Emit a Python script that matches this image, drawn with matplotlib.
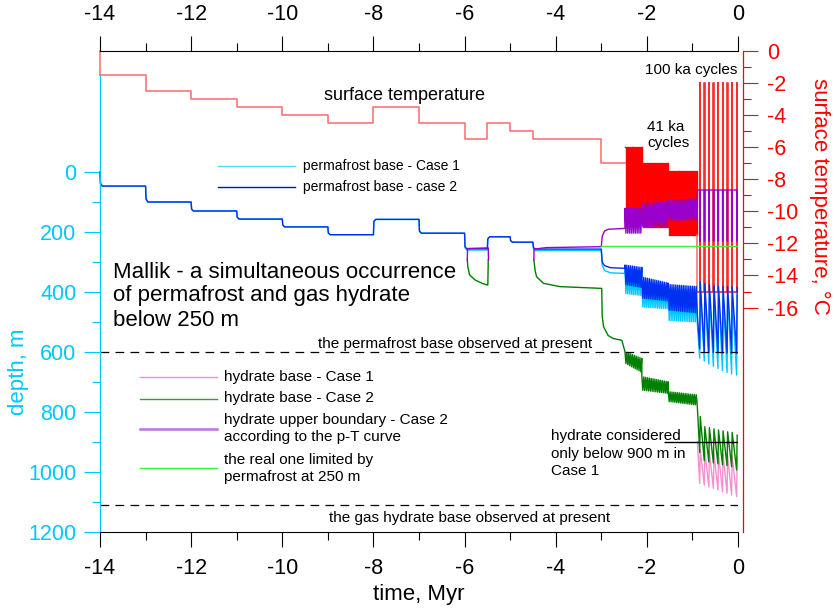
import numpy as np
import matplotlib
matplotlib.use('Agg')
import matplotlib.pyplot as plt
from matplotlib.lines import Line2D

plt.rcParams['font.family'] = ['Liberation Sans', 'DejaVu Sans']
plt.rcParams['axes.unicode_minus'] = False

# ---- surface temperature (degC), value holds from step_time[i] to step_time[i+1]
temp_step_time = [-14, -13, -12, -11, -10, -9, -8, -7, -6, -5.5, -5, -4.5, -3, -2.48]
temp_step_value = [-1.5, -2.5, -3, -3.5, -4, -4.5, -3.5, -4.5, -5.5, -4.5, -5, -5.5, -7]

# 41 ka cycles, three blocks
cyc41_start = [-2.48, -2.11, -1.53]
cyc41_end = [-2.11, -1.53, -0.89]
cyc41_warm = [-6.0, -7.0, -7.5]
cyc41_cold = [-10.5, -11.0, -11.5]
period41 = 0.041

# 100 ka cycles: short warm spikes on a cold background
spike100 = [-0.84, -0.74, -0.64, -0.54, -0.44, -0.34, -0.24, -0.14, -0.03]
spike_len = 0.012
temp100_warm = -2
temp100_cold = -15

# ---- permafrost base, case 2 (blue) and case 1 (cyan), depth m
pf2_t = [-14, -13.99, -13.95, -13.0, -12.99, -12.95, -12.0, -11.99, -11.95, -11.0, -10.99, -10.95,
         -10.0, -9.99, -9.95, -9.0, -8.99, -8.95, -8.0, -7.99, -7.95, -7.0, -6.99, -6.95,
         -6.0, -5.99, -5.95, -5.5, -5.49, -5.45, -5.0, -4.99, -4.95, -4.5, -4.49, -4.45,
         -3.0, -2.98, -2.93, -2.8, -2.48]
pf2_d = [0, 38, 47, 47, 90, 100, 100, 124, 130, 130, 150, 157,
         157, 177, 183, 183, 203, 209, 209, 165, 158, 158, 197, 204,
         204, 249, 256, 256, 223, 216, 216, 229, 234, 234, 251, 257,
         257, 300, 312, 319, 321]
pf1_t = pf2_t
pf1_d = [0, 38, 47, 47, 90, 100, 100, 124, 130, 130, 150, 157,
         157, 177, 183, 183, 203, 209, 209, 165, 158, 158, 197, 204,
         204, 252, 260, 260, 222, 216, 216, 229, 234, 234, 255, 262,
         262, 310, 328, 336, 338]

# 41 ka band envelopes (start/end of each block)
pf2_up0, pf2_up1 = [310, 350, 375], [318, 370, 382]
pf2_lo0, pf2_lo1 = [375, 420, 460], [385, 430, 470]
pf1_up0, pf1_up1 = [320, 362, 388], [328, 380, 392]
pf1_lo0, pf1_lo1 = [405, 450, 495], [412, 456, 500]
hb2_up0, hb2_up1 = [599, 682, 732], [621, 699, 743]
hb2_lo0, hb2_lo1 = [637, 727, 765], [668, 738, 777]
hu2_up0, hu2_up1 = [121, 104, 93], [121, 100, 90]
hu2_lo0, hu2_lo1 = [204, 182, 160], [204, 182, 160]

# 100 ka saw-tooth: depth just before each spike (bottom) and right after it (top)
pf2_bot100 = [590, 600, 600, 602, 603, 604, 604, 604, 605]
pf2_top100 = [366, 372, 375, 378, 380, 380, 382, 382, 385]
pf1_bot100 = [621, 630, 640, 648, 655, 662, 668, 673, 677]
pf1_top100 = [390, 395, 400, 402, 405, 405, 408, 410, 410]
hb2_bot100 = [935, 962, 966, 970, 973, 976, 979, 982, 993]
hb2_top100 = [815, 849, 852, 856, 860, 863, 866, 868, 877]
hb1_bot100 = [1038, 1044, 1050, 1055, 1060, 1066, 1071, 1076, 1082]
hb1_top100 = [925, 930, 935, 938, 940, 942, 945, 948, 950]
hu2_cold100 = 60
hu2_warm100 = 230

# hydrate base case 2 (green) and upper boundary case 2 (purple) before the cycles
hb2_t = [-5.94, -5.93, -5.89, -5.77, -5.6, -5.49, -5.48, np.nan,
         -4.48, -4.45, -4.42, -4.27, -3.91, -2.99, -2.98, -2.95, -2.85, -2.74, -2.55]
hb2_d = [293, 315, 343, 360, 372, 377, 293, np.nan,
         293, 330, 349, 371, 382, 388, 480, 516, 545, 555, 561]
hu2_t = [-5.94, -5.935, -5.48, -5.475, np.nan,
         -4.48, -4.475, -4.2, -3.0, -2.98, -2.93, -2.85, -2.48]
hu2_d = [293, 255, 253, 293, np.nan,
         293, 257, 252, 249, 215, 197, 191, 188]

real_top_t = [-3.0, 0]
real_top_d = [248, 248]

pf_present = 600
gh_present = 1110
case1_limit = 900
case1_limit_t = [-1.62, 0]

CYAN = '#00c8ff'
BLUE = '#0030f0'
PINK = '#f590d0'
GREEN = '#008000'
PURPLE = '#9900cc'
LGREEN = '#40ee40'
RED = '#ff0000'
PALE_RED = '#ff6a6a'


def band41(up0, up1, lo0, lo1):
    ts, ds = [], []
    for b in range(len(cyc41_start)):
        t = np.arange(cyc41_start[b], cyc41_end[b], period41 / 2)
        up = np.linspace(up0[b], up1[b], len(t))
        lo = np.linspace(lo0[b], lo1[b], len(t))
        ts.extend(t)
        ds.extend(np.where(np.arange(len(t)) % 2 == 0, up, lo))
    return ts, ds


def saw100(bot, top):
    ts, ds = [], []
    for k, s in enumerate(spike100):
        ts += [s, s + spike_len]
        ds += [bot[k], top[k]]
    return ts, ds


def depth_series(t0, d0, up0, up1, lo0, lo1, bot, top):
    t41, d41 = band41(up0, up1, lo0, lo1)
    t100, d100 = saw100(bot, top)
    return list(t0) + t41 + t100, list(d0) + d41 + d100


fig = plt.figure(figsize=(8.34, 6.10), dpi=100)
ax = fig.add_axes([100 / 834, 1 - 532 / 610, 638 / 834, 481 / 610])
ax2 = ax.twinx()
ax.set_zorder(ax2.get_zorder() + 1)
ax.patch.set_visible(False)

# ---- temperature (right axis)
tt = list(temp_step_time)
tv = list(temp_step_value) + [temp_step_value[-1]]
ax2.plot([-14, -14], [0, temp_step_value[0]], color=PALE_RED, lw=1.1, clip_on=False)
ax2.plot(tt, tv, drawstyle='steps-post', color=PALE_RED, lw=1.1, clip_on=False)
for b in range(3):
    t = np.arange(cyc41_start[b], cyc41_end[b], period41 / 2)
    v = np.where(np.arange(len(t)) % 2 == 0, cyc41_warm[b], cyc41_cold[b])
    ax2.plot(list(t) + [cyc41_end[b]], list(v) + [v[-1]], drawstyle='steps-post', color=RED, lw=1.0)
ax2.plot([cyc41_end[-1], cyc41_end[-1]], [cyc41_cold[-1], temp100_cold], color=PALE_RED, lw=1.1)
t100 = [cyc41_end[-1]]
v100 = [temp100_cold]
for s in spike100:
    t100 += [s, s, s + spike_len, s + spike_len]
    v100 += [temp100_cold, temp100_warm, temp100_warm, temp100_cold]
t100 += [0]
v100 += [temp100_cold]
ax2.plot(t100, v100, color='#ff2a2a', lw=1.2)

# ---- depth curves (left axis)
t, d = depth_series(pf1_t, pf1_d, pf1_up0, pf1_up1, pf1_lo0, pf1_lo1, pf1_bot100, pf1_top100)
ax.plot(t, d, color=CYAN, lw=1.0, clip_on=False)
t, d = depth_series(pf2_t, pf2_d, pf2_up0, pf2_up1, pf2_lo0, pf2_lo1, pf2_bot100, pf2_top100)
ax.plot(t, d, color=BLUE, lw=1.0, clip_on=False)

t100, d100 = saw100(hb1_bot100, hb1_top100)
ax.plot([cyc41_end[-1]] + t100, [case1_limit] + d100, color=PINK, lw=1.0)

t, d = depth_series(hb2_t, hb2_d, hb2_up0, hb2_up1, hb2_lo0, hb2_lo1, hb2_bot100, hb2_top100)
ax.plot(t, d, color=GREEN, lw=1.0)

t41, d41 = band41(hu2_up0, hu2_up1, hu2_lo0, hu2_lo1)
tp, dp = [cyc41_end[-1]], [hu2_cold100]
for s in spike100:
    tp += [s, s, s + spike_len, s + spike_len]
    dp += [hu2_cold100, hu2_warm100, hu2_warm100, hu2_cold100]
ax.plot(list(hu2_t) + t41 + tp, list(hu2_d) + d41 + dp, color=PURPLE, lw=1.0)

ax.plot(real_top_t, real_top_d, color=LGREEN, lw=1.0)

ax.hlines([pf_present, gh_present], -14, 0, colors='black', lw=0.9, linestyles=(0, (7, 5)))
ax.hlines(case1_limit, *case1_limit_t, colors='black', lw=1.0)

# ---- axes
ax.set_xlim(-14, 0)
ax.set_ylim(1200, -403.3)
ax2.set_ylim(-30, 0)

ax.set_xticks(np.arange(-14, 1, 2))
ax.set_xticks(np.arange(-13, 0, 2), minor=True)
ax.set_yticks(np.arange(0, 1201, 200))
ax.set_yticks(np.arange(100, 1200, 200), minor=True)
ax2.set_yticks(np.arange(0, -17, -2))
ax2.set_yticks(np.arange(-1, -16, -2), minor=True)

ax.tick_params(axis='x', which='both', top=True, labeltop=True, bottom=True, labelbottom=True,
               direction='out', width=0.8, colors='black', labelsize=15.5, pad=7.5)
ax.tick_params(axis='x', which='major', length=11)
ax.tick_params(axis='x', which='minor', length=6)
ax.tick_params(axis='y', which='both', colors=CYAN, width=0.8, labelsize=15.5, pad=5.5)
ax.tick_params(axis='y', which='major', length=11.5)
ax.tick_params(axis='y', which='minor', length=6)
ax2.tick_params(axis='y', which='both', colors=RED, width=0.8, labelsize=15.5, pad=6.5)
ax2.tick_params(axis='y', which='major', length=11)
ax2.tick_params(axis='y', which='minor', length=5.5)

for sp in ['top', 'bottom']:
    ax.spines[sp].set_linewidth(0.8)
ax.spines['right'].set_visible(False)
ax.spines['left'].set_color(CYAN)
ax.spines['left'].set_linewidth(0.9)
ax.spines['left'].set_bounds(-320, 1200)
for sp in ['left', 'top', 'bottom']:
    ax2.spines[sp].set_visible(False)
ax2.spines['right'].set_color(RED)
ax2.spines['right'].set_linewidth(0.9)
ax2.spines['right'].set_position(('outward', 3.6))

ax.set_xlabel('time, Myr', fontsize=16, labelpad=3.5)
ax.set_ylabel('depth, m', color=CYAN, fontsize=16, va='center', ha='center')
ax.yaxis.set_label_coords(-0.1285, 0.333)
ax2.set_ylabel('surface temperature, \u00b0C', color=RED, fontsize=16, rotation=270,
               va='center', ha='center')
ax2.yaxis.set_label_coords(1.1285, 0.697)


# ---- annotations, positions in pixels from the top-left corner
def px(x, y):
    return x / 834, 1 - y / 610


def ftext(x, y, s, size, ha='left', color='black'):
    fig.text(*px(x, y), s, fontsize=size, ha=ha, va='center', color=color)


def fline(x0, x1, y, color, lw=1.0):
    fig.add_artist(Line2D([x0 / 834, x1 / 834], [1 - y / 610, 1 - y / 610], color=color, lw=lw))


ftext(405, 96, 'surface temperature', 13, ha='center')
ftext(737, 70, '100 ka cycles', 11, ha='right')
ftext(666, 127, '41 ka', 11, ha='center')
ftext(668, 143, 'cycles', 11, ha='center')
ftext(113, 272, 'Mallik - a simultaneous occurrence', 16)
ftext(113, 296, 'of permafrost and gas hydrate', 16)
ftext(113, 320, 'below 250 m', 16)

fline(218, 295, 166, '#55d5ff')
fline(218, 295, 187, '#0010d0')
ftext(303, 166, 'permafrost base - Case 1', 10)
ftext(303, 187, 'permafrost base - case 2', 10)

fline(140, 217, 377, PINK)
fline(140, 217, 399, '#30a030')
fline(140, 217, 429, '#c070e8', lw=1.8)
fline(140, 217, 468, LGREEN)
ftext(224, 377, 'hydrate base - Case 1', 11)
ftext(224, 398, 'hydrate base - Case 2', 11)
ftext(224, 420, 'hydrate upper boundary - Case 2', 11)
ftext(224, 437, 'according to the p-T curve', 11)
ftext(224, 460, 'the real one limited by', 11)
ftext(224, 477, 'permafrost at 250 m', 11)

ftext(318, 344, 'the permafrost base observed at present', 11)
ftext(329, 518, 'the gas hydrate base observed at present', 11)
ftext(551, 436, 'hydrate considered', 11)
ftext(551, 454, 'only below 900 m in', 11)
ftext(551, 471, 'Case 1', 11)

fig.savefig('out.png', dpi=100)
